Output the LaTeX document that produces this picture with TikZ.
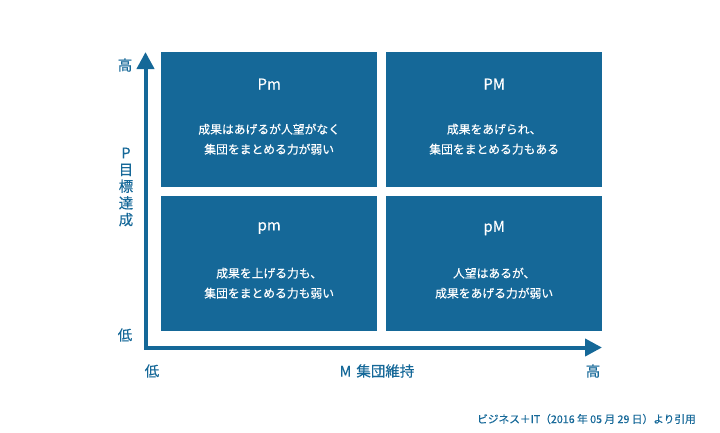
\documentclass[tikz,border=0pt]{standalone}
\usepackage{fontspec}
\setmainfont{Noto Sans CJK JP}[FakeBold=0.35]
\usetikzlibrary{arrows.meta}
\definecolor{pmblue}{RGB}{21,104,152}
\tikzset{
  quadbox/.style={fill=pmblue, draw=none, minimum width=216pt, minimum height=135pt, inner sep=0pt, anchor=north west},
  quadtitle/.style={text=white, font=\fontsize{15}{18}\selectfont, inner sep=0pt},
  quadbody/.style={text=white, font=\fontsize{11.8}{20}\selectfont, align=center, inner sep=0pt},
  axislabel/.style={text=pmblue, font=\fontsize{14.5}{16.7}\selectfont, inner sep=0pt, align=center},
  axisline/.style={draw=pmblue, line width=4pt, line join=miter, {Triangle[width=17pt,length=17pt]}-{Triangle[width=17pt,length=17pt]}},
  srclabel/.style={text=pmblue, font=\fontsize{10.7}{12}\selectfont, inner sep=0pt, anchor=east}
}
\begin{document}
\begin{tikzpicture}[x=1pt,y=-1pt]
\useasboundingbox (0,0) rectangle (720,432);
% boxes
\node[quadbox] (bTL) at (161,52) {};
\node[quadbox] (bTR) at (386,52) {};
\node[quadbox] (bBL) at (161,196) {};
\node[quadbox] (bBR) at (386,196) {};
% titles
\node[quadtitle] (tTL) at ([yshift=-32pt]bTL.north) {Pm};
\node[quadtitle] (tTR) at ([yshift=-32pt]bTR.north) {PM};
\node[quadtitle] (tBL) at ([yshift=-32pt]bBL.north) {pm};
\node[quadtitle] (tBR) at ([yshift=-32pt]bBR.north) {pM};
% bodies
\node[quadbody] (dTL) at ([yshift=-19.5pt]bTL.center) {成果はあげるが人望がなく\\集団をまとめる力が弱い};
\node[quadbody] (dTR) at ([yshift=-19.5pt]bTR.center) {成果をあげられ、\\集団をまとめる力もある};
\node[quadbody] (dBL) at ([yshift=-19.5pt]bBL.center) {成果を上げる力も、\\集団をまとめる力も弱い};
\node[quadbody] (dBR) at ([yshift=-19.5pt]bBR.center) {人望はあるが、\\成果をあげる力が弱い};
% axes
\coordinate (ytop) at (145.5,52);
\coordinate (corner) at (145.5,347.5);
\coordinate (xend) at (602,347.5);
\draw[axisline] (ytop) -- (corner) -- (xend);
% axis labels
\node[axislabel] (yhigh) at (125,65) {高};
\node[axislabel] (ylow) at (125,335) {低};
\node[axislabel] (ytitle) at (126,187) {P\\目\\標\\達\\成};
\node[axislabel] (xlow) at (152,371) {低};
\node[axislabel] (xtitle) at (377,371) {M\hspace{5pt}集団維持};
\node[axislabel] (xhigh) at (593,371) {高};
% source
\node[srclabel] (src) at (696,419) {ビジネス＋IT（2016 年 05 月 29 日）より引用};
\end{tikzpicture}
\end{document}
